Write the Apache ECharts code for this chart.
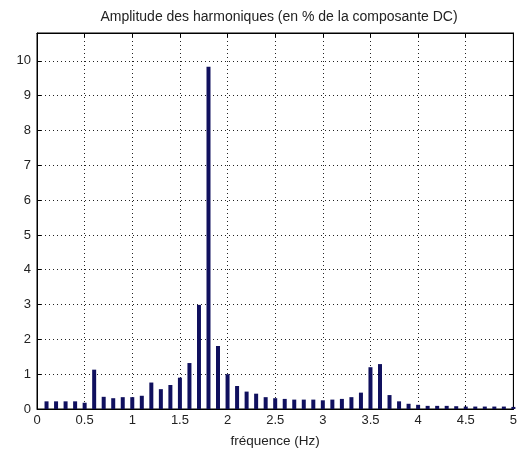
<!DOCTYPE html>
<html>
<head>
<meta charset="utf-8">
<script src="https://cdn.jsdelivr.net/npm/echarts@6/dist/echarts.min.js"></script>
<style>
  html, body { margin: 0; padding: 0; background: #ffffff; }
  #chart { width: 520px; height: 453px; }
</style>
</head>
<body>
<div id="chart"></div>
<script>
// Harmonic frequencies (Hz) and amplitudes (% of the DC component)
const frequencies = [
  0.1, 0.2, 0.3, 0.4, 0.5, 0.6, 0.7, 0.8, 0.9, 1.0,
  1.1, 1.2, 1.3, 1.4, 1.5, 1.6, 1.7, 1.8, 1.9, 2.0,
  2.1, 2.2, 2.3, 2.4, 2.5, 2.6, 2.7, 2.8, 2.9, 3.0,
  3.1, 3.2, 3.3, 3.4, 3.5, 3.6, 3.7, 3.8, 3.9, 4.0,
  4.1, 4.2, 4.3, 4.4, 4.5, 4.6, 4.7, 4.8, 4.9, 5.0
];
const amplitudes = [
  0.22, 0.22, 0.22, 0.22, 0.18, 1.13, 0.35, 0.31, 0.34, 0.34,
  0.38, 0.76, 0.57, 0.69, 0.90, 1.32, 2.99, 9.83, 1.81, 1.00,
  0.66, 0.50, 0.44, 0.34, 0.31, 0.29, 0.27, 0.27, 0.27, 0.25,
  0.27, 0.29, 0.34, 0.47, 1.20, 1.29, 0.40, 0.22, 0.15, 0.12,
  0.09, 0.09, 0.09, 0.08, 0.07, 0.07, 0.07, 0.07, 0.07, 0.06
];
const xTicks = [0, 0.5, 1, 1.5, 2, 2.5, 3, 3.5, 4, 4.5, 5];
const yTicks = [0, 1, 2, 3, 4, 5, 6, 7, 8, 9, 10];

const titleText = 'Amplitude des harmoniques (en % de la composante DC)';
const xLabelText = 'fréquence (Hz)';

const font = 'Liberation Sans, Arial, sans-serif';
const xMin = xTicks[0], xMax = xTicks[xTicks.length - 1];
const yMin = yTicks[0], yMax = 10.8;

const chart = echarts.init(document.getElementById('chart'), null, { renderer: 'canvas' });

const dotted = { show: true, lineStyle: { color: '#222', type: [1, 3], width: 1 } };
const inTick = { show: true, inside: true, length: 4, lineStyle: { color: '#000' } };

const numLabel = (v) => {
  const r = Math.round(v * 10) / 10;
  return (xTicks.includes(r) || yTicks.includes(r)) ? String(r) : '';
};

chart.setOption({
  animation: false,
  backgroundColor: '#ffffff',
  title: {
    text: titleText,
    left: 274, textAlign: 'center', top: 5,
    textStyle: { fontFamily: font, fontSize: 14, fontWeight: 'normal', color: '#222' }
  },
  grid: {
    left: 37, right: 6, top: 33, bottom: 44,
    show: true, borderColor: '#000', borderWidth: 1, backgroundColor: '#fff'
  },
  xAxis: [
    {
      type: 'value', min: xMin, max: xMax, interval: 0.5, position: 'bottom',
      axisLine: { show: true, onZero: false, lineStyle: { color: '#000' } },
      axisTick: inTick,
      splitLine: dotted,
      axisLabel: { fontFamily: font, fontSize: 13, color: '#222', margin: 5, formatter: numLabel },
      name: xLabelText, nameLocation: 'middle', nameGap: 25,
      nameTextStyle: { fontFamily: font, fontSize: 13.5, color: '#222' }
    },
    {
      type: 'value', min: xMin, max: xMax, interval: 0.5, position: 'top',
      axisLine: { show: true, onZero: false, lineStyle: { color: '#000' } },
      axisTick: inTick, axisLabel: { show: false }, splitLine: { show: false }
    }
  ],
  yAxis: [
    {
      type: 'value', min: yMin, max: yMax, interval: 1, position: 'left',
      axisLine: { show: true, onZero: false, lineStyle: { color: '#000' } },
      axisTick: inTick,
      splitLine: dotted,
      axisLabel: { fontFamily: font, fontSize: 13, color: '#222', margin: 6, formatter: numLabel }
    },
    {
      type: 'value', min: yMin, max: yMax, interval: 1, position: 'right',
      axisLine: { show: true, onZero: false, lineStyle: { color: '#000' } },
      axisTick: inTick, axisLabel: { show: false }, splitLine: { show: false }
    }
  ],
  series: [{
    type: 'bar',
    xAxisIndex: 0, yAxisIndex: 0,
    barWidth: 4,
    itemStyle: { color: '#10105e' },
    data: frequencies.map((f, i) => [f, amplitudes[i]]),
    z: 3
  }]
});
</script>
</body>
</html>
